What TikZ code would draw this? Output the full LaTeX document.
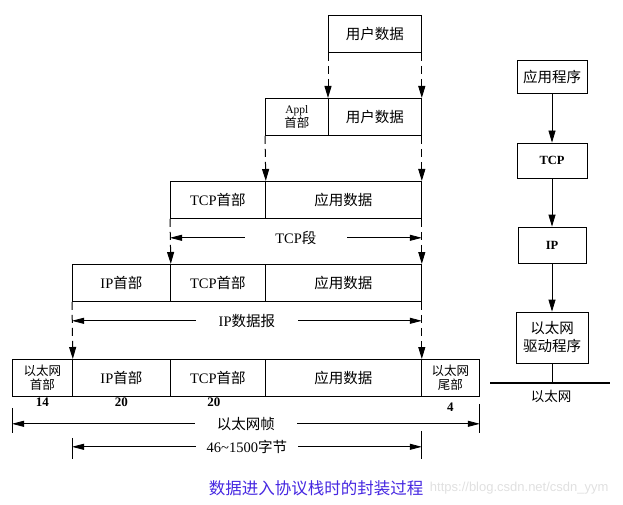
\documentclass[tikz,border=0pt]{standalone}
\usepackage{fontspec}
\setmainfont{Liberation Serif}
\newfontfamily\cjk{Noto Sans CJK SC}
\newfontfamily\wmfont{Liberation Sans}
\newcommand{\zh}[1]{{\cjk #1}}
\usetikzlibrary{arrows.meta}
\usetikzlibrary{positioning}
\definecolor{capblue}{RGB}{70,40,225}

\begin{document}
\begin{tikzpicture}[x=1pt,y=-1pt,
  cell/.style={draw,line width=.8pt,anchor=north west,minimum height=37pt,inner sep=0pt,align=center,font=\fontsize{14.5}{16}\selectfont},
  smalltxt/.style={font=\fontsize{12.5}{14}\selectfont},
  dasharr/.style={line width=1pt,dash pattern=on 8pt off 5pt,-{Triangle[length=12pt,width=7pt]}},
  dimarr/.style={line width=.8pt,{Triangle[length=12pt,width=6pt]}-{Triangle[length=12pt,width=6pt]}},
  gaplbl/.style={fill=white,minimum width=102pt,inner sep=1pt,font=\fontsize{14.5}{16}\selectfont},
  num/.style={below,inner sep=1pt,font=\bfseries\fontsize{13}{14}\selectfont},
  stackbox/.style={draw,line width=.8pt,align=center,inner sep=0pt,font=\fontsize{14.5}{18}\selectfont},
  downarr/.style={line width=.8pt,-{Triangle[length=12pt,width=7pt]}}]
\useasboundingbox (0,0) rectangle (623,505);
% row 1
\node[cell,minimum width=93pt] (u1) at (328,15) {\zh{用户数据}};
% row 2
\node[cell,minimum width=63pt,smalltxt] (a2h) at (265,98) {\fontsize{11.5}{14}\selectfont Appl\\\zh{首部}};
\node[cell,minimum width=93pt] (a2d) at (328,98) {\zh{用户数据}};
% row 3
\node[cell,minimum width=95pt] (t3h) at (170,181) {TCP\zh{首部}};
\node[cell,minimum width=156pt] (t3d) at (265,181) {\zh{应用数据}};
% row 4
\node[cell,minimum width=98pt] (i4h) at (72,264) {IP\zh{首部}};
\node[cell,minimum width=95pt] (t4h) at (170,264) {TCP\zh{首部}};
\node[cell,minimum width=156pt] (d4) at (265,264) {\zh{应用数据}};
% row 5
\node[cell,minimum width=60pt,smalltxt] (e5h) at (12,359) {\zh{以太网}\\\zh{首部}};
\node[cell,minimum width=98pt] (i5h) at (72,359) {IP\zh{首部}};
\node[cell,minimum width=95pt] (t5h) at (170,359) {TCP\zh{首部}};
\node[cell,minimum width=156pt] (d5) at (265,359) {\zh{应用数据}};
\node[cell,minimum width=58pt,smalltxt] (e5t) at (421,359) {\zh{以太网}\\\zh{尾部}};
\node[num] (n14) at (e5h.south) {14};
\node[num] (n20a) at (i5h.south) {20};
\node[num,xshift=-4pt] (n20b) at (t5h.south) {20};
\node[num,yshift=-5pt] (n4) at (e5t.south) {4};
% dashed arrows down
\draw[dasharr] (u1.south west) -- (a2d.north west);
\draw[dasharr] (u1.south east) -- (a2d.north east);
\draw[dasharr] (a2h.south west) -- (t3h.north east);
\draw[dasharr] (a2d.south east) -- (t3d.north east);
\draw[dasharr] (t3h.south west) -- (i4h.north east);
\draw[dasharr] (t3d.south east) -- (d4.north east);
\draw[dasharr] (i4h.south west) -- (e5h.north east);
\draw[dasharr] (d4.south east) -- (d5.north east);
% lengths
\draw[dimarr] ([yshift=-19pt]t3h.south west) -- ([yshift=-19pt]t3d.south east) node[gaplbl,midway] (lt) {TCP\zh{段}};
\draw[dimarr] ([yshift=-19pt]i4h.south west) -- ([yshift=-19pt]d4.south east) node[gaplbl,midway] (li) {IP\zh{数据报}};
\draw[line width=.8pt] ([yshift=-11pt]e5h.south west) -- ([yshift=-36pt]e5h.south west);
\draw[line width=.8pt] ([yshift=-7pt]e5t.south east) -- ([yshift=-36pt]e5t.south east);
\draw[line width=.8pt] ([yshift=-41pt]i5h.south west) -- ([yshift=-62pt]i5h.south west);
\draw[line width=.8pt] ([yshift=-34pt]d5.south east) -- ([yshift=-62pt]d5.south east);
\draw[dimarr] ([yshift=-27pt]e5h.south west) -- ([yshift=-27pt]e5t.south east) node[gaplbl,midway] (le) {\zh{以太网帧}};
\draw[dimarr] ([yshift=-50pt]i5h.south west) -- ([yshift=-50pt]d5.south east) node[gaplbl,midway] (lb) {46\textasciitilde1500\zh{字节}};
% protocol stack
\node[stackbox,minimum width=70pt,minimum height=33pt] (app) at (552,76.5) {\zh{应用程序}};
\node[stackbox,minimum width=70pt,minimum height=35pt,font=\bfseries\fontsize{12.5}{13}\selectfont] (tcp) at (552,160.5) {TCP};
\node[stackbox,minimum width=68pt,minimum height=36pt,font=\bfseries\fontsize{12.5}{13}\selectfont] (ip) at (552,245) {IP};
\node[stackbox,minimum width=72pt,minimum height=51pt] (drv) at (552,337.5) {\zh{以太网}\\\zh{驱动程序}};
\draw[downarr] (app) -- (tcp);
\draw[downarr] (tcp) -- (ip);
\draw[downarr] (ip) -- (drv);
\coordinate (busL) at (490,383);
\coordinate (busR) at (610,383);
\draw[line width=2.5pt] (busL) -- (busR);
\draw[line width=.8pt] (drv.south) -- (drv.south |- busL);
\node[font=\fontsize{13.5}{14}\selectfont] (eth) at (551,396) {\zh{以太网}};
% caption
\node[anchor=east,text=black!12,font=\wmfont\fontsize{13}{14}\selectfont] (wm) at (612,488) {https://blog.csdn.net/csdn\_yym};
\node[text=capblue,font=\fontsize{16.5}{18}\selectfont] (cap) at (316,488) {\zh{数据进入协议栈时的封装过程}};
\end{tikzpicture}
\end{document}
